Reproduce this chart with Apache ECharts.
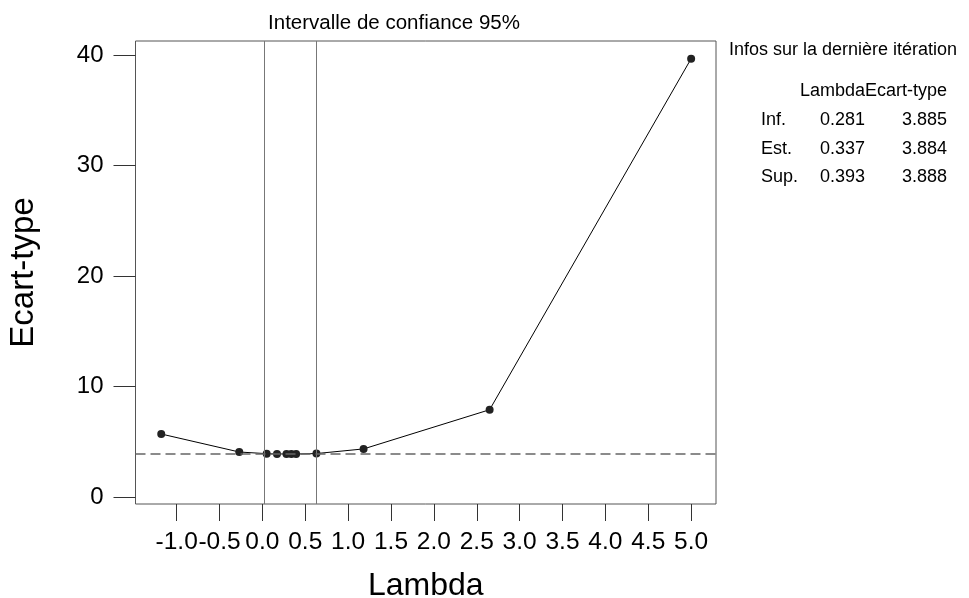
<!DOCTYPE html>
<html>
<head>
<meta charset="utf-8">
<script src="https://cdn.jsdelivr.net/npm/echarts@6/dist/echarts.min.js"></script>
<style>
  html, body { margin: 0; padding: 0; background: #fff; }
  #boxcox { width: 969px; height: 598px; }
</style>
</head>
<body>
<div id="boxcox"></div>
<script>
  // valeurs
  var lambdas = [-1.18, -0.27, 0.05, 0.17, 0.281, 0.337, 0.393, 0.63, 1.18, 2.65, 5.0];
  var ecarts = [5.7, 4.07, 3.92, 3.90, 3.885, 3.884, 3.888, 3.93, 4.35, 7.9, 39.7];
  var xTicks = [-1.0, -0.5, 0.0, 0.5, 1.0, 1.5, 2.0, 2.5, 3.0, 3.5, 4.0, 4.5, 5.0];
  var yTicks = [0, 10, 20, 30, 40];
  var ciBounds = [0.02, 0.63];
  var bestSd = 3.884;
  var infoRows = [
    ['Inf.', '0.281', '3.885'],
    ['Est.', '0.337', '3.884'],
    ['Sup.', '0.393', '3.888']
  ];

  var font = 'Liberation Sans, Arial, sans-serif';
  var chart = echarts.init(document.getElementById('boxcox'));

  var points = lambdas.map(function (l, i) { return [l, ecarts[i]]; });

  function txt(x, y, s, align) {
    return {
      type: 'text', x: x, y: y,
      style: { text: s, font: '18px ' + font, fill: '#000', textAlign: align || 'left', textVerticalAlign: 'middle' }
    };
  }
  var infoGraphics = [
    txt(729, 50, 'Infos sur la dernière itération'),
    txt(865, 91, 'Lambda', 'right'),
    txt(947, 91, 'Ecart-type', 'right')
  ];
  var rowY = [120, 149, 177];
  infoRows.forEach(function (r, i) {
    infoGraphics.push(txt(761, rowY[i], r[0]));
    infoGraphics.push(txt(865, rowY[i], r[1], 'right'));
    infoGraphics.push(txt(947, rowY[i], r[2], 'right'));
  });

  var option = {
    animation: false,
    backgroundColor: '#fff',
    title: {
      text: 'Intervalle de confiance 95%',
      left: 389,
      top: 8,
      textAlign: 'center',
      textStyle: { fontFamily: font, fontSize: 20.5, fontWeight: 'normal', color: '#000' }
    },
    grid: {
      left: 135.5, right: 253, top: 41, bottom: 94,
      outerBoundsMode: 'none',
      containLabel: false,
      show: true, borderColor: '#555', borderWidth: 1
    },
    xAxis: {
      type: 'value',
      min: -1.48, max: 5.29,
      name: 'Lambda',
      nameLocation: 'middle',
      nameGap: 66,
      nameTextStyle: { fontFamily: font, fontSize: 32, color: '#000' },
      axisLine: { show: false, onZero: false },
      splitLine: { show: false },
      axisTick: { show: true, length: 17, lineStyle: { color: '#333' }, customValues: xTicks },
      axisLabel: {
        fontFamily: font, fontSize: 24.5, color: '#000', margin: 26,
        customValues: xTicks,
        formatter: function (v) { return v.toFixed(1); }
      }
    },
    yAxis: {
      type: 'value',
      min: -0.64, max: 41.3,
      name: 'Ecart-type',
      nameLocation: 'middle',
      nameGap: 95,
      nameTextStyle: { fontFamily: font, fontSize: 33, color: '#000' },
      axisLine: { show: false, onZero: false },
      splitLine: { show: false },
      axisTick: { show: true, length: 22, lineStyle: { color: '#333' }, customValues: yTicks },
      axisLabel: {
        fontFamily: font, fontSize: 24, color: '#000', margin: 32,
        customValues: yTicks
      }
    },
    series: [{
      type: 'line',
      data: points,
      symbol: 'circle',
      symbolSize: 8,
      itemStyle: { color: '#222' },
      lineStyle: { color: '#000', width: 1 },
      markLine: {
        silent: true,
        symbol: 'none',
        label: { show: false },
        data: [
          { xAxis: ciBounds[0], lineStyle: { color: '#777', width: 1, type: 'solid' } },
          { xAxis: ciBounds[1], lineStyle: { color: '#777', width: 1, type: 'solid' } },
          { yAxis: bestSd, lineStyle: { color: '#666', width: 1.5, type: [10, 5] } }
        ]
      }
    }],
    graphic: infoGraphics
  };

  chart.setOption(option);
</script>
</body>
</html>
